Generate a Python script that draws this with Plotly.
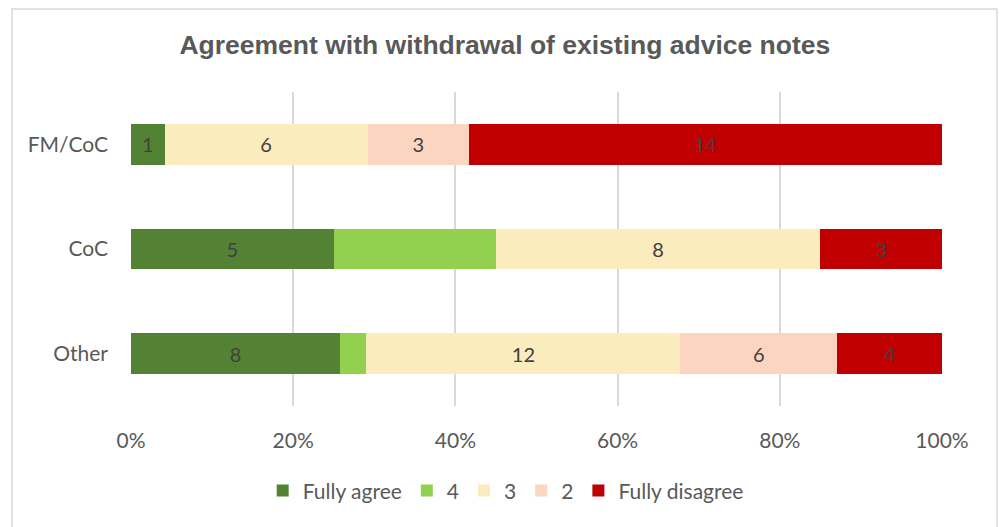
import plotly.graph_objects as go

# Respondent groups (top to bottom) and counts per agreement level
groups = ["FM/CoC", "CoC", "Other"]
levels = ["Fully agree", "4", "3", "2", "Fully disagree"]
fully_agree = [1, 5, 8]
level_4 = [0, 4, 1]
level_3 = [6, 8, 12]
level_2 = [3, 0, 6]
fully_disagree = [14, 3, 4]
x_ticks = [0, 20, 40, 60, 80, 100]
x_tick_labels = ["0%", "20%", "40%", "60%", "80%", "100%"]

series = [fully_agree, level_4, level_3, level_2, fully_disagree]
colors = ["#548235", "#92d050", "#fbecbd", "#fbd5c0", "#c00000"]
show_labels = [True, False, True, True, True]

body_font = "Lato, sans-serif"

fig = go.Figure()
for name, vals, col, lab in zip(levels, series, colors, show_labels):
    txt = [str(v) if (lab and v) else "" for v in vals]
    fig.add_trace(go.Bar(
        y=groups, x=vals, name=name, orientation="h",
        marker=dict(color=col, line=dict(width=0)),
        text=txt, textposition="inside", insidetextanchor="middle",
        textangle=0, constraintext="none",
        textfont=dict(family=body_font, size=20, color="#404040"),
        hoverinfo="skip",
    ))

fig.update_layout(
    width=1000, height=527,
    barmode="stack", barnorm="percent", bargap=0.61,
    paper_bgcolor="white", plot_bgcolor="white",
    margin=dict(l=131, r=58, t=92, b=121),
    title=dict(text="<b>Agreement with withdrawal of existing advice notes</b>",
               x=0.461, xref="paper", xanchor="center", y=0.915, yanchor="middle",
               font=dict(family="Liberation Sans, Arial, sans-serif", size=26.5, color="#595959")),
    xaxis=dict(range=[0, 100], tickvals=x_ticks, ticktext=x_tick_labels,
               showgrid=True, gridcolor="#d9d9d9", gridwidth=1.5, zeroline=False,
               showline=False, ticks="", ticklabelstandoff=20,
               tickfont=dict(family=body_font, size=21, color="#595959")),
    yaxis=dict(categoryorder="array", categoryarray=groups, autorange="reversed",
               showgrid=False, zeroline=False, showline=False, ticks="",
               ticklabelstandoff=22,
               tickfont=dict(family=body_font, size=21, color="#595959")),
    legend=dict(orientation="h", x=0.462, xanchor="center", y=-0.27, yanchor="middle",
                traceorder="normal", itemclick=False, itemwidth=30,
                font=dict(family=body_font, size=21, color="#595959")),
    showlegend=True,
)

# light chart border
fig.add_shape(type="rect", xref="paper", yref="paper",
              x0=-0.1467, x1=1.0678, y0=-0.4, y1=1.264,
              line=dict(color="#d9d9d9", width=1.5), fillcolor="rgba(0,0,0,0)", layer="below")

fig.write_html("out.html")
